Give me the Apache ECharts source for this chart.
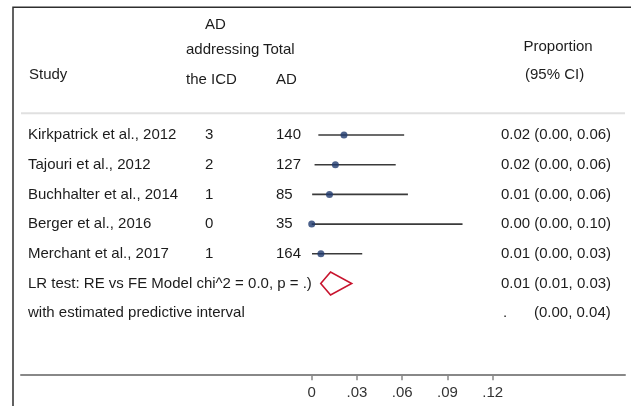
<!DOCTYPE html>
<html>
<head>
<meta charset="utf-8">
<script src="https://cdn.jsdelivr.net/npm/echarts@6/dist/echarts.min.js"></script>
<style>
html, body { margin: 0; padding: 0; background: #fff; }
#forest { width: 631px; height: 406px; }
</style>
</head>
<body>
<div id="forest"></div>
<script>
// study rows
var studies = ['Kirkpatrick et al., 2012', 'Tajouri et al., 2012', 'Buchhalter et al., 2014', 'Berger et al., 2016', 'Merchant et al., 2017'];
var events = [3, 2, 1, 0, 1];
var totals = [140, 127, 85, 35, 164];
var estimates = [0.0214, 0.0157, 0.0118, 0.0, 0.0061];
var lower = [0.0044, 0.0019, 0.0003, 0.0, 0.0002];
var upper = [0.0613, 0.0557, 0.0638, 0.1000, 0.0335];
var ciLabels = ['0.02 (0.00, 0.06)', '0.02 (0.00, 0.06)', '0.01 (0.00, 0.06)', '0.00 (0.00, 0.10)', '0.01 (0.00, 0.03)'];

// pooled (diamond) + predictive interval row
var pooled = [0.0060, 0.0125, 0.0265]; // lower, estimate, upper
var pooledText = 'LR test: RE vs FE Model chi^2 = 0.0, p = .)';
var pooledLabel = '0.01 (0.01, 0.03)';
var predText = 'with estimated predictive interval';
var predLabel = '(0.00, 0.04)';

var xTicks = [0, 0.03, 0.06, 0.09, 0.12];
var xTickLabels = ['0', '.03', '.06', '.09', '.12'];

var FONT = '15px "Liberation Sans", Arial, sans-serif';
var TXT = '#1c1c1c';
var ROW0 = 135, ROW_H = 29.7;        // y of first row, row step (px)
var X0 = 311.7, PX_PER_UNIT = 1508.3; // where 0 sits, px per unit
var GRID_L = 21, GRID_R = 625, GRID_T = 7, GRID_B = 374.3;

var chart = echarts.init(document.getElementById('forest'));

var dotData = estimates.map(function (v, i) { return [v, i]; });
var ciData = studies.map(function (s, i) { return [lower[i], upper[i], i]; });
var pooledRow = studies.length;

var option = {
    animation: false,
    grid: { left: GRID_L, right: 631 - GRID_R, top: GRID_T, bottom: 406 - GRID_B },
    xAxis: {
        type: 'value',
        position: 'bottom',
        min: (GRID_L - X0) / PX_PER_UNIT,
        max: (GRID_R - X0) / PX_PER_UNIT,
        splitLine: { show: false },
        axisLine: { onZero: false, lineStyle: { color: '#888', width: 2 } },
        axisTick: { customValues: xTicks, length: 6, lineStyle: { color: '#888', width: 1.5 } },
        axisLabel: {
            customValues: xTicks,
            margin: 11,
            fontSize: 15,
            fontFamily: '"Liberation Sans", Arial, sans-serif',
            color: '#333',
            formatter: function (v) {
                for (var i = 0; i < xTicks.length; i++) {
                    if (Math.abs(xTicks[i] - v) < 1e-9) return xTickLabels[i];
                }
                return '';
            }
        }
    },
    yAxis: {
        type: 'value',
        inverse: true,
        show: false,
        min: (GRID_T - ROW0) / ROW_H,
        max: (GRID_B - ROW0) / ROW_H
    },
    series: [{
        type: 'custom',
        data: ciData,
        encode: { x: [0, 1], y: 2 },
        renderItem: function (params, api) {
            var a = api.coord([api.value(0), api.value(2)]);
            var b = api.coord([api.value(1), api.value(2)]);
            return {
                type: 'line',
                shape: { x1: a[0], y1: a[1], x2: b[0], y2: b[1] },
                style: { stroke: '#3a3a3a', lineWidth: 1.6 }
            };
        }
    }, {
        type: 'scatter',
        data: dotData,
        symbolSize: 7,
        itemStyle: { color: '#1f3a6e' },
        z: 5
    }, {
        type: 'custom',
        data: [[pooled[0], pooled[1], pooled[2], pooledRow]],
        encode: { x: [0, 2], y: 3 },
        renderItem: function (params, api) {
            var l = api.coord([api.value(0), api.value(3)]);
            var c = api.coord([api.value(1), api.value(3)]);
            var r = api.coord([api.value(2), api.value(3)]);
            var h = 11.5;
            return {
                type: 'polygon',
                shape: { points: [[l[0], l[1]], [c[0], c[1] - h], [r[0], r[1]], [c[0], c[1] + h]] },
                style: { fill: 'none', stroke: '#c8142e', lineWidth: 1.6 }
            };
        }
    }]
};
chart.setOption(option);

// table text, placed on the row positions of the y axis
var rowY = function (r) { return chart.convertToPixel({ yAxisIndex: 0 }, r); };
var txt = function (s, x, y) {
    return { type: 'text', style: { text: s, x: x, y: y, fill: TXT, font: FONT, align: 'left', verticalAlign: 'middle' } };
};

var g = [];
// frame + header rule
g.push({ type: 'polyline', shape: { points: [[13, 406], [13, 7.3], [631, 7.3]] }, style: { stroke: '#2e2e2e', lineWidth: 1.5, fill: 'none' } });
g.push({ type: 'line', shape: { x1: GRID_L, y1: 113.3, x2: GRID_R, y2: 113.3 }, style: { stroke: '#e0e0e0', lineWidth: 2 } });

// headers
g.push(txt('AD', 205, 25));
g.push(txt('addressing', 186, 50));
g.push(txt('Total', 263, 50));
g.push(txt('Study', 29, 75));
g.push(txt('the ICD', 186, 80));
g.push(txt('AD', 276, 80));
g.push(txt('Proportion', 523.5, 47));
g.push(txt('(95% CI)', 525, 75));

for (var i = 0; i < studies.length; i++) {
    var y = rowY(i);
    g.push(txt(studies[i], 28, y));
    g.push(txt(String(events[i]), 205, y));
    g.push(txt(String(totals[i]), 276, y));
    g.push(txt(ciLabels[i], 501, y));
}
g.push(txt(pooledText, 28, rowY(pooledRow)));
g.push(txt(pooledLabel, 501, rowY(pooledRow)));
g.push(txt(predText, 28, rowY(pooledRow + 1)));
g.push(txt('.', 503, rowY(pooledRow + 1)));
g.push(txt(predLabel, 534, rowY(pooledRow + 1)));

chart.setOption({ graphic: g });
</script>
</body>
</html>
